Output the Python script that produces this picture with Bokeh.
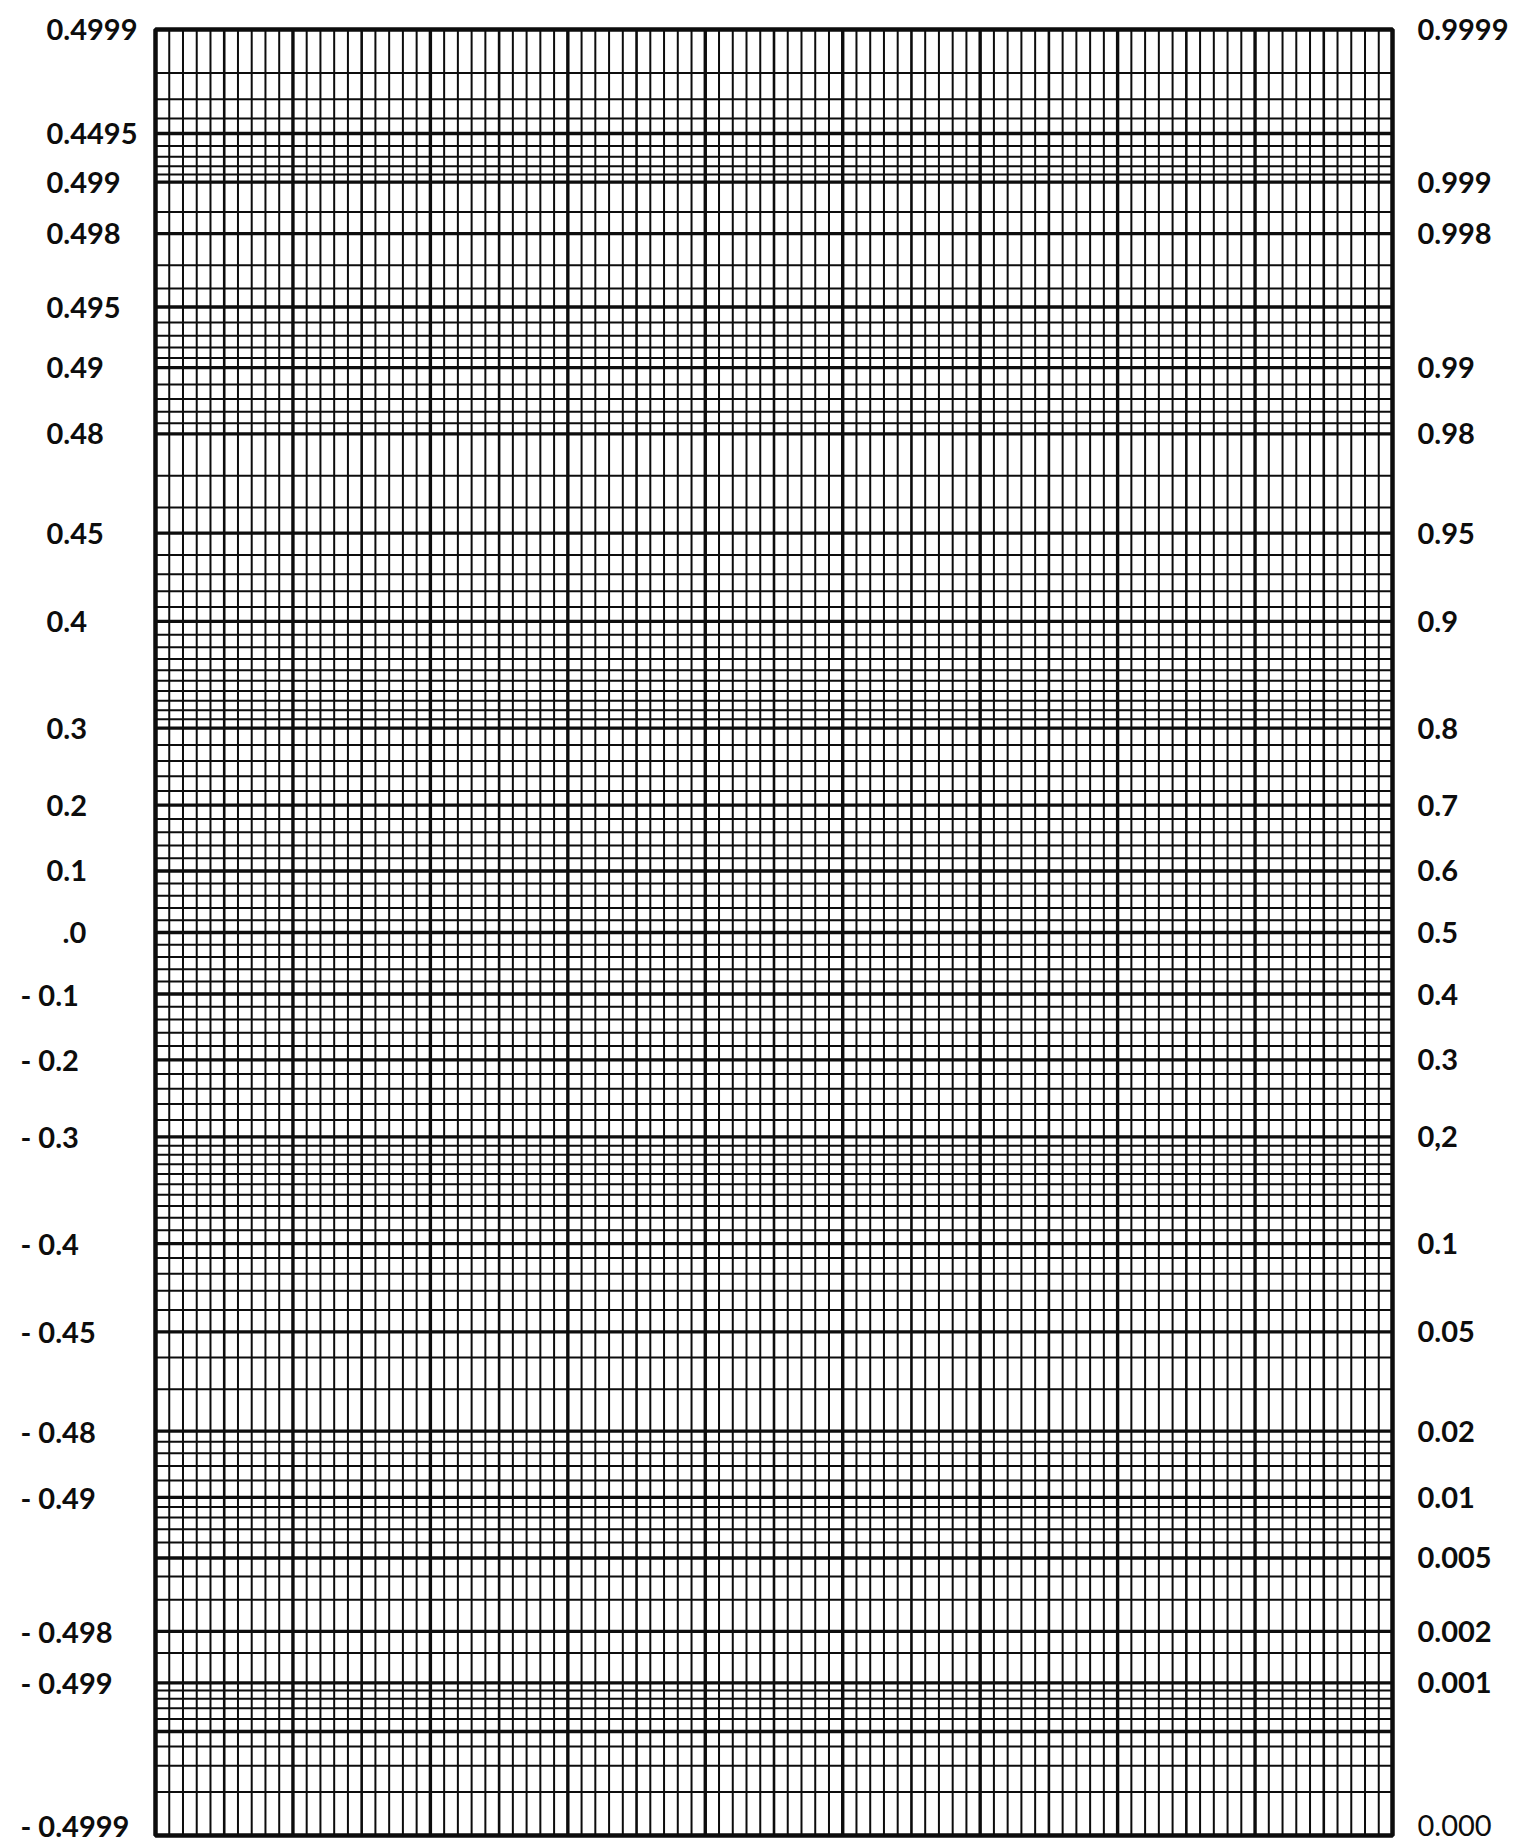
from statistics import NormalDist
from bokeh.plotting import figure
from bokeh.models import Range1d, ColumnDataSource
from bokeh.core.properties import value
from bokeh.embed import file_html
from bokeh.resources import INLINE

# ---------------- data ----------------
N_COLUMNS = 9          # heavy vertical columns
SUBDIV = 10            # fine divisions per column

# heavy horizontal rulings (probabilities)
major_probs = [0.9999, 0.9995, 0.999, 0.998, 0.995, 0.99, 0.98, 0.95, 0.9,
               0.8, 0.7, 0.6, 0.5, 0.4, 0.3, 0.2, 0.1, 0.05, 0.02, 0.01,
               0.005, 0.002, 0.001, 0.0005, 0.0001]

# fine horizontal rulings, upper half
minor_probs_upper = [0.9998, 0.9997, 0.9996, 0.9994, 0.9993, 0.9992, 0.9991,
                     0.9985,
                     0.997, 0.996,
                     0.994, 0.993, 0.992, 0.991,
                     0.988, 0.986, 0.984, 0.982,
                     0.97, 0.96,
                     0.94, 0.93, 0.92, 0.91,
                     0.89, 0.88, 0.87, 0.86, 0.85, 0.84, 0.83, 0.82, 0.81,
                     0.78, 0.76, 0.74, 0.72,
                     0.68, 0.66, 0.64, 0.62,
                     0.58, 0.56, 0.54, 0.52]
# fine horizontal rulings, lower half
minor_probs_lower = [0.48, 0.46, 0.44, 0.42,
                     0.38, 0.36, 0.34, 0.32,
                     0.28, 0.26, 0.24, 0.22,
                     0.19, 0.18, 0.17, 0.16, 0.15, 0.14, 0.13, 0.12, 0.11,
                     0.09, 0.08, 0.07, 0.06,
                     0.04, 0.03,
                     0.018, 0.016, 0.014, 0.012,
                     0.009, 0.008, 0.007, 0.006,
                     0.004, 0.003,
                     0.0015,
                     0.0009, 0.0008, 0.0007, 0.0006, 0.0004, 0.0003, 0.0002]

left_labels = ["0.4999", "0.4495", "0.499", "0.498", "0.495", "0.49", "0.48",
               "0.45", "0.4", "0.3", "0.2", "0.1", ".0", "- 0.1", "- 0.2",
               "- 0.3", "- 0.4", "- 0.45", "- 0.48", "- 0.49", "- 0.498",
               "- 0.499", "- 0.4999"]
left_label_probs = [0.9999, 0.9995, 0.999, 0.998, 0.995, 0.99, 0.98, 0.95, 0.9,
                    0.8, 0.7, 0.6, 0.5, 0.4, 0.3, 0.2, 0.1, 0.05, 0.02, 0.01,
                    0.002, 0.001, 0.0001]

right_labels = ["0.9999", "0.999", "0.998", "0.99", "0.98", "0.95", "0.9",
                "0.8", "0.7", "0.6", "0.5", "0.4", "0.3", "0,2", "0.1",
                "0.05", "0.02", "0.01", "0.005", "0.002", "0.001", "0.000"]
right_label_probs = [0.9999, 0.999, 0.998, 0.99, 0.98, 0.95, 0.9, 0.8, 0.7,
                     0.6, 0.5, 0.4, 0.3, 0.2, 0.1, 0.05, 0.02, 0.01, 0.005,
                     0.002, 0.001, 0.0001]
# right-hand label lettered in a lighter stroke
right_light = ["0.000"]

# ---------------- layout ----------------
W, H = 1514, 1842
GX0, GX1 = 155, 1392      # grid left/right in canvas px
GY0, GY1 = 29, 1835       # grid top/bottom in canvas px

nd = NormalDist()
zq = nd.inv_cdf
ZMAX = zq(0.9999)
ZMIN = zq(0.0001)
XMAX = N_COLUMNS * SUBDIV

kx = (GX1 - GX0) / XMAX
ky = (GY1 - GY0) / (ZMAX - ZMIN)
x_start = -GX0 / kx
x_end = XMAX + (W - GX1) / kx
y_start = ZMIN - (H - GY1) / ky
y_end = ZMAX + GY0 / ky

def px_x(px):
    return x_start + px / kx

p = figure(width=W, height=H, output_backend="svg", toolbar_location=None,
           x_range=Range1d(x_start, x_end), y_range=Range1d(y_start, y_end),
           x_axis_type=None, y_axis_type=None, min_border=0)
p.grid.visible = False
p.outline_line_color = None
p.background_fill_color = "white"
p.border_fill_color = "white"

INK = "#0d0d0d"

# vertical rulings
xs = list(range(XMAX + 1))
x_minor = [x for x in xs if x % 5 != 0]
x_mid = [x for x in xs if x % 5 == 0 and x % 10 != 0]
x_major = [x for x in xs if x % 10 == 0 and 0 < x < XMAX]
for group, lw in ((x_minor, 2.0), (x_mid, 2.6), (x_major, 3.4)):
    p.segment(x0=group, y0=[ZMIN] * len(group), x1=group, y1=[ZMAX] * len(group),
              line_color=INK, line_width=lw)

# horizontal rulings
minor_z = [zq(v) for v in minor_probs_upper + minor_probs_lower]
p.segment(x0=[0] * len(minor_z), y0=minor_z, x1=[XMAX] * len(minor_z), y1=minor_z,
          line_color=INK, line_width=2.0)
major_inner = [zq(v) for v in major_probs if 0.0001 < v < 0.9999]
p.segment(x0=[0] * len(major_inner), y0=major_inner, x1=[XMAX] * len(major_inner),
          y1=major_inner, line_color=INK, line_width=3.4)

# frame
p.quad(left=[0], right=[XMAX], bottom=[ZMIN], top=[ZMAX], fill_color=None,
       line_color=INK, line_width=4.5)

# labels
def lx(t):
    if t.startswith("-"):
        return px_x(20)
    if t.startswith("."):
        return px_x(62)
    return px_x(46)

def yoff(prob):
    # the lowest label sits just above the bottom ruling
    return -10 if prob <= 0.0001 else 0

left_src = ColumnDataSource(dict(x=[lx(t) for t in left_labels],
                                 y=[zq(v) for v in left_label_probs],
                                 dy=[yoff(v) for v in left_label_probs],
                                 text=left_labels))
p.text(x="x", y="y", text="text", y_offset="dy", source=left_src,
       text_font=value("Lato"), text_font_style="bold", text_font_size="29px",
       text_color=INK, text_align="left", text_baseline="middle")

bold_right = [i for i, t in enumerate(right_labels) if t not in right_light]
thin_right = [i for i, t in enumerate(right_labels) if t in right_light]
for idx, style in ((bold_right, "bold"), (thin_right, "normal")):
    src = ColumnDataSource(dict(x=[px_x(1417)] * len(idx),
                                y=[zq(right_label_probs[i]) for i in idx],
                                dy=[yoff(right_label_probs[i]) for i in idx],
                                text=[right_labels[i] for i in idx]))
    p.text(x="x", y="y", text="text", y_offset="dy", source=src,
           text_font=value("Lato"), text_font_style=style, text_font_size="29px",
           text_color=INK, text_align="left", text_baseline="middle")

open("out.html", "w").write(file_html(p, INLINE))
